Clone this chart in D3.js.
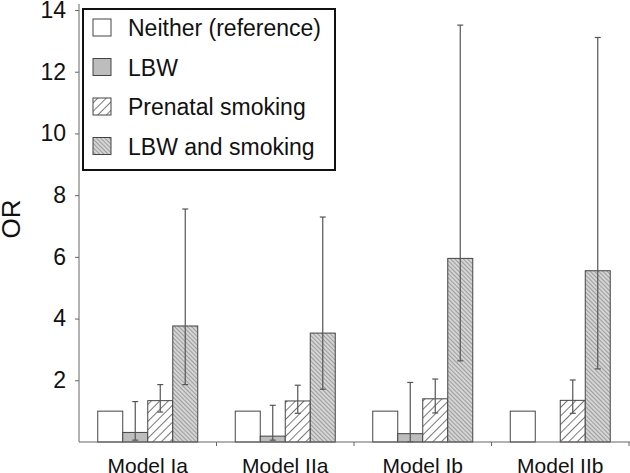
<!DOCTYPE html>
<html>
<head>
<meta charset="utf-8">
<script src="https://cdn.jsdelivr.net/npm/d3@7"></script>
<style>
  body { margin: 0; background: #fff; }
  svg { display: block; font-family: "Liberation Sans", Arial, sans-serif; }
</style>
</head>
<body>
<svg width="630" height="473"></svg>
<script>
var models = ["Model Ia", "Model IIa", "Model Ib", "Model IIb"];
var series = ["Neither (reference)", "LBW", "Prenatal smoking", "LBW and smoking"];
var yTicks = [2, 4, 6, 8, 10, 12, 14];

// OR per model, one array per series (null = not shown)
var neither    = [1.0, 1.0, 1.0, 1.0];
var lbw        = [0.31, 0.19, 0.27, null];
var smoking    = [1.34, 1.33, 1.40, 1.35];
var lbwSmoking = [3.76, 3.53, 5.95, 5.55];

// 95% CI lower / upper
var lbwLo        = [0.06, 0.06, 0.01, null];
var lbwHi        = [1.31, 1.19, 1.93, null];
var smokingLo    = [0.97, 0.93, 0.94, 0.93];
var smokingHi    = [1.86, 1.84, 2.04, 2.01];
var lbwSmokingLo = [1.86, 1.71, 2.63, 2.37];
var lbwSmokingHi = [7.55, 7.29, 13.51, 13.11];

var values = [neither, lbw, smoking, lbwSmoking];
var lows  = [null, lbwLo, smokingLo, lbwSmokingLo];
var highs = [null, lbwHi, smokingHi, lbwSmokingHi];
var fills = ["#fff", "#bdbdbd", "url(#hatchA)", "url(#hatchB)"];

var svg = d3.select("svg");
var mLeft = 79, mRight = 629, mTop = 10, mBottom = 442;

var defs = svg.append("defs");
var pa = defs.append("pattern").attr("id", "hatchA")
    .attr("patternUnits", "userSpaceOnUse").attr("width", 6).attr("height", 6)
    .attr("patternTransform", "rotate(45)");
pa.append("rect").attr("width", 6).attr("height", 6).attr("fill", "#fff");
pa.append("line").attr("x1", 0).attr("y1", 0).attr("x2", 0).attr("y2", 6)
    .attr("stroke", "#555").attr("stroke-width", 1.6);
var pb = defs.append("pattern").attr("id", "hatchB")
    .attr("patternUnits", "userSpaceOnUse").attr("width", 3).attr("height", 3)
    .attr("patternTransform", "rotate(-45)");
pb.append("rect").attr("width", 3).attr("height", 3).attr("fill", "#d4d4d4");
pb.append("line").attr("x1", 0).attr("y1", 0).attr("x2", 0).attr("y2", 3)
    .attr("stroke", "#666").attr("stroke-width", 1);

var x0 = d3.scaleBand().domain(models).range([mLeft, mRight]).padding(0);
var x1 = d3.scaleBand().domain(d3.range(series.length))
    .range([0, x0.bandwidth()]).paddingInner(0).paddingOuter(0.75);
var y = d3.scaleLinear().domain([0, 14]).range([mBottom, mTop]);

// y axis
var yAxis = svg.append("g")
    .attr("transform", "translate(" + mLeft + ",0)")
    .call(d3.axisLeft(y).tickValues(yTicks).tickSize(4).tickSizeOuter(0));
yAxis.select(".domain").attr("stroke", "#666").attr("d", "M0," + y(0) + "V" + (mTop - 6));
yAxis.selectAll(".tick line").attr("stroke", "#666");
yAxis.selectAll(".tick text").attr("font-size", 23).attr("fill", "#111").attr("x", -13)
    .attr("font-family", "Liberation Sans, Arial, sans-serif");

svg.append("text").attr("transform", "translate(20,219) rotate(-90)")
    .attr("text-anchor", "middle").attr("font-size", 26).attr("fill", "#111").text("OR");

// bars
models.forEach(function(m, i) {
  values.forEach(function(arr, s) {
    var v = arr[i];
    if (v == null) return;
    var bx = x0(m) + x1(s);
    svg.append("rect")
      .attr("x", bx).attr("y", y(v))
      .attr("width", x1.bandwidth()).attr("height", y(0) - y(v))
      .attr("fill", fills[s]).attr("stroke", "#444").attr("stroke-width", 1);
    if (lows[s] && lows[s][i] != null) {
      var cx = bx + x1.bandwidth() / 2;
      var g = svg.append("g").attr("stroke", "#555").attr("stroke-width", 1.2);
      g.append("line").attr("x1", cx).attr("x2", cx)
        .attr("y1", y(lows[s][i])).attr("y2", y(highs[s][i]));
      [lows[s][i], highs[s][i]].forEach(function(e) {
        g.append("line").attr("x1", cx - 3).attr("x2", cx + 3)
          .attr("y1", y(e)).attr("y2", y(e));
      });
    }
  });
});

// x axis
var xAxis = svg.append("g").attr("transform", "translate(0," + mBottom + ")");
xAxis.append("line").attr("x1", mLeft).attr("x2", mRight + 1)
  .attr("stroke", "#666");
xAxis.selectAll("line.tk").data(models).enter().append("line")
  .attr("class", "tk")
  .attr("x1", function(d) { return x0(d) + x0.bandwidth(); })
  .attr("x2", function(d) { return x0(d) + x0.bandwidth(); })
  .attr("y1", 0).attr("y2", 4).attr("stroke", "#666");
xAxis.selectAll("text").data(models).enter().append("text")
  .attr("x", function(d) { return x0(d) + x0.bandwidth() / 2; })
  .attr("y", 31).attr("text-anchor", "middle").attr("font-size", 21).attr("fill", "#111")
  .text(function(d) { return d; });

// legend
var lg = svg.append("g");
lg.append("rect").attr("x", 83).attr("y", 9).attr("width", 252).attr("height", 161)
  .attr("fill", "#fff").attr("stroke", "#111").attr("stroke-width", 2);
series.forEach(function(s, k) {
  var yy = 19 + k * 39.5;
  lg.append("rect").attr("x", 93).attr("y", yy).attr("width", 18).attr("height", 17)
    .attr("fill", fills[k]).attr("stroke", "#444");
  lg.append("text").attr("x", 128).attr("y", yy + 17).attr("font-size", 23)
    .attr("fill", "#111").text(s);
});
</script>
</body>
</html>
